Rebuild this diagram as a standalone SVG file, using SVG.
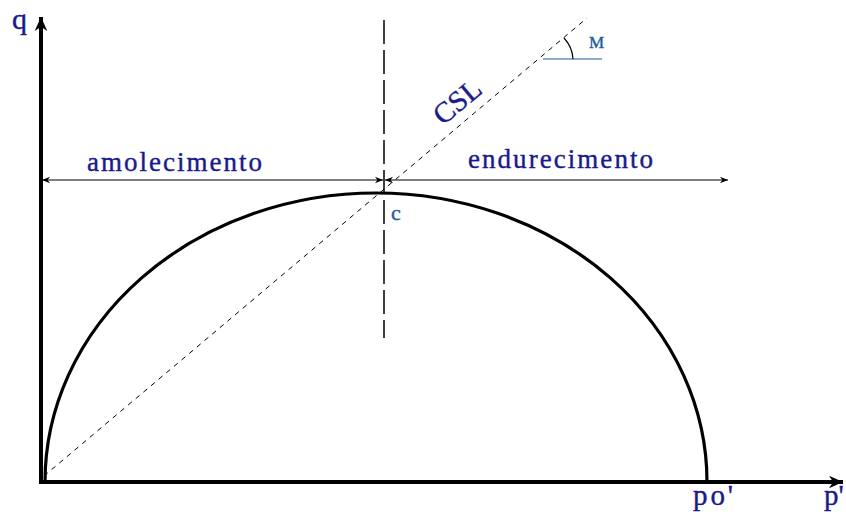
<svg xmlns="http://www.w3.org/2000/svg" width="846" height="520" viewBox="0 0 846 520">
<style>
.t{fill:#1a1a8c;stroke:#1a1a8c;stroke-width:0.4}
.t2{fill:#1f5c9a;stroke:#1f5c9a;stroke-width:0.4}
.dim{stroke:#000;stroke-width:1.2;fill:none}
</style>
<defs>
<marker id="ah" viewBox="0 0 10 10" refX="10" refY="5" markerWidth="8" markerHeight="8" markerUnits="userSpaceOnUse" orient="auto-start-reverse">
<path d="M0,1 L10,5 L0,9 L3,5 Z" fill="#000"/>
</marker>
<marker id="big" viewBox="0 0 10 10" refX="10" refY="5" markerWidth="14" markerHeight="14" markerUnits="userSpaceOnUse" orient="auto">
<path d="M0,0.5 L10,5 L0,9.5 L3,5 Z" fill="#000"/>
</marker>
</defs>
<rect width="846" height="520" fill="#fff"/>
<g id="connectors">
<line id="q-axis" x1="41" y1="484" x2="41" y2="17" stroke="#000" stroke-width="4" marker-end="url(#big)"/>
<line id="p-axis" x1="39" y1="482" x2="843" y2="482" stroke="#000" stroke-width="4" marker-end="url(#big)"/>
<path id="yield" d="M45,482 A331,289 0 0 1 707,482" fill="none" stroke="#000" stroke-width="3.2"/>
<line id="vline" x1="384" y1="20" x2="384" y2="338" stroke="#000" stroke-width="1.5" stroke-dasharray="24,6"/>
<line id="csl" x1="44" y1="476" x2="587" y2="18" stroke="#000" stroke-width="1" stroke-dasharray="5,5"/>
<line id="dim-left" class="dim" x1="42" y1="180" x2="383" y2="180" marker-start="url(#ah)" marker-end="url(#ah)"/>
<line id="dim-right" class="dim" x1="385" y1="180" x2="728" y2="180" marker-start="url(#ah)" marker-end="url(#ah)"/>
<line id="m-base" x1="543" y1="59" x2="602" y2="59" stroke="#1f5c9a" stroke-width="1.2"/>
<path id="m-arc" d="M564,38 A33,33 0 0 1 573,59" fill="none" stroke="#000" stroke-width="1.2"/>
</g>
<g id="labels" font-family="'Liberation Serif', 'DejaVu Serif', serif">
<text class="t" x="12" y="29" font-size="30">q</text>
<text class="t" x="87" y="171" font-size="27" textLength="175" lengthAdjust="spacing">amolecimento</text>
<text class="t" x="468" y="168" font-size="27" textLength="185" lengthAdjust="spacing">endurecimento</text>
<text class="t" x="0" y="0" font-size="29" transform="translate(443,126) rotate(-40)">CSL</text>
<text class="t2" x="391" y="220" font-size="22">c</text>
<text class="t2" x="589" y="48" font-size="17">M</text>
<text class="t" x="693" y="505" font-size="29" textLength="40" lengthAdjust="spacing">po'</text>
<text class="t" x="824" y="505" font-size="29">p'</text>
</g>
</svg>
